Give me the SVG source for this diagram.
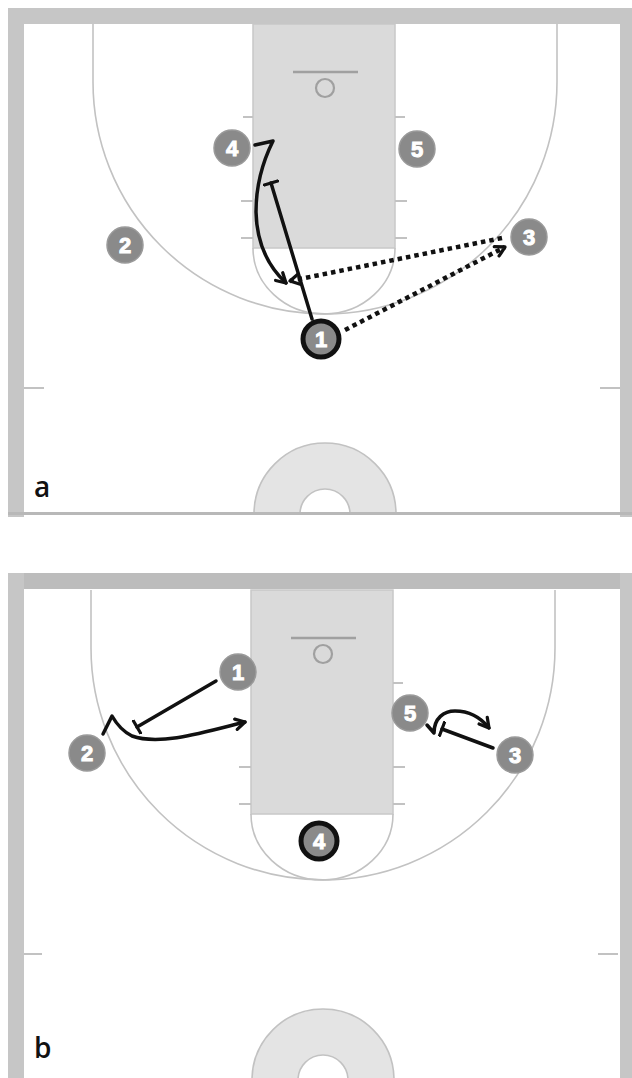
<svg xmlns="http://www.w3.org/2000/svg" width="632" height="1078" viewBox="0 0 632 1078">
<style>
.band{fill:#c6c6c6}
.lane{fill:#dadada;stroke:#c8c8c8;stroke-width:1.5}
.cl{fill:none;stroke:#c2c2c2;stroke-width:1.6}
.tick{stroke:#c2c2c2;stroke-width:2}
.rim{fill:none;stroke:#a0a0a0;stroke-width:2.2}
.board{stroke:#a0a0a0;stroke-width:2.5}
.cc{fill:#e4e4e4;stroke:#c2c2c2;stroke-width:1.6}
.ci{fill:#fff;stroke:#c2c2c2;stroke-width:1.6}
.pl{fill:#8a8a8a;stroke:#9a9a9a;stroke-width:1.5}
.pb{fill:#8a8a8a;stroke:#111;stroke-width:5}
.num{fill:#fff;stroke:#fff;stroke-width:1;font-family:"Liberation Sans",Arial,sans-serif;font-weight:bold;font-size:22px;text-anchor:middle}
.lbl{fill:#111;font-family:"Open Sans","Liberation Sans",sans-serif;font-weight:600;font-size:28px}
.mv{fill:none;stroke:#111;stroke-width:3.5;stroke-linecap:round;stroke-linejoin:round}
.ps{fill:none;stroke:#111;stroke-width:4.5;stroke-dasharray:4.5 4}
</style>
<defs>
<marker id="arr" viewBox="0 0 12 12" refX="10" refY="6" markerWidth="14" markerHeight="14" markerUnits="userSpaceOnUse" orient="auto">
<path d="M2,1.5 L10,6 L2,10.5" fill="none" stroke="#111" stroke-width="2.8" stroke-linecap="round" stroke-linejoin="round"/>
</marker>
<marker id="tee" viewBox="0 0 4 16" refX="2" refY="8" markerWidth="4" markerHeight="16" markerUnits="userSpaceOnUse" orient="auto">
<path d="M2,1 L2,15" stroke="#111" stroke-width="3.2" stroke-linecap="round"/>
</marker>
<g id="court">
<rect class="lane" x="253" y="24" width="142" height="224"/>
<path class="cl" d="M253,248 A71,66 0 0 0 395,248"/>
<path class="cl" d="M93,24 L93,82 A232,232 0 0 0 557,82 L557,24"/>
<line class="board" x1="293" y1="72" x2="358" y2="72"/>
<circle class="rim" cx="325" cy="88" r="9"/>
<line class="tick" x1="243" y1="117" x2="253" y2="117"/>
<line class="tick" x1="395" y1="117" x2="405" y2="117"/>
<line class="tick" x1="241" y1="201" x2="253" y2="201"/>
<line class="tick" x1="395" y1="201" x2="407" y2="201"/>
<line class="tick" x1="241" y1="238" x2="253" y2="238"/>
<line class="tick" x1="395" y1="238" x2="407" y2="238"/>
<line class="tick" x1="24" y1="388" x2="44" y2="388"/>
<line class="tick" x1="600" y1="388" x2="620" y2="388"/>
<path class="cc" d="M254,514 A71,71 0 0 1 396,514 Z"/>
<path class="ci" d="M300,514 A25,25 0 0 1 350,514 Z"/>
</g>
</defs>
<rect width="632" height="1078" fill="#fff"/>

<g id="panel-a-court">
<use href="#court"/>
<rect class="band" x="8" y="8" width="624" height="16"/>
<rect class="band" x="8" y="8" width="16" height="509"/>
<rect class="band" x="620" y="8" width="12" height="509"/>
<rect x="8" y="512" width="624" height="3" fill="#b8b8b8"/>
<text class="lbl" x="34" y="497">a</text>
</g>

<g id="panel-b-court">
<use href="#court" transform="translate(-2,566)"/>
<rect class="band" x="8" y="573" width="624" height="16" style="fill:#bcbcbc"/>
<rect class="band" x="8" y="573" width="16" height="505"/>
<rect class="band" x="620" y="573" width="12" height="505"/>
<text class="lbl" x="34" y="1058">b</text>
</g>

<g id="connectors">
<path class="mv" d="M312,319 L271,183" marker-end="url(#tee)"/>
<path class="mv" d="M255,145 L273,141 Q256,175 256,212 Q257,256 286,283" marker-end="url(#arr)"/>
<path class="ps" d="M345,330 L505,247" marker-end="url(#arr)"/>
<path class="ps" d="M502,238 L290,281" marker-end="url(#arr)"/>
<path class="mv" d="M216,681 L137,727" marker-end="url(#tee)"/>
<path class="mv" d="M103,734 L112,716 Q120,730 132,736 C160,746 205,732 245,722" marker-end="url(#arr)"/>
<path class="mv" d="M493,748 L442,729" marker-end="url(#tee)"/>
<path class="mv" d="M427,725 L434,733 C434,718 444,711 455,711 C470,711 481,718 489,728" marker-end="url(#arr)"/>
</g>

<g id="a-node-4"><circle class="pl" cx="232" cy="148" r="18"/><text class="num" x="232" y="156">4</text></g>
<g id="a-node-5"><circle class="pl" cx="417" cy="149" r="18"/><text class="num" x="417" y="157">5</text></g>
<g id="a-node-2"><circle class="pl" cx="125" cy="245" r="18"/><text class="num" x="125" y="253">2</text></g>
<g id="a-node-3"><circle class="pl" cx="529" cy="237" r="18"/><text class="num" x="529" y="245">3</text></g>
<g id="a-node-1"><circle class="pb" cx="321" cy="339" r="18"/><text class="num" x="321" y="347">1</text></g>

<g id="b-node-1"><circle class="pl" cx="238" cy="672" r="18"/><text class="num" x="238" y="680">1</text></g>
<g id="b-node-2"><circle class="pl" cx="87" cy="753" r="18"/><text class="num" x="87" y="761">2</text></g>
<g id="b-node-5"><circle class="pl" cx="410" cy="713" r="18"/><text class="num" x="410" y="721">5</text></g>
<g id="b-node-3"><circle class="pl" cx="515" cy="755" r="18"/><text class="num" x="515" y="763">3</text></g>
<g id="b-node-4"><circle class="pb" cx="319" cy="841" r="18"/><text class="num" x="319" y="849">4</text></g>
</svg>
